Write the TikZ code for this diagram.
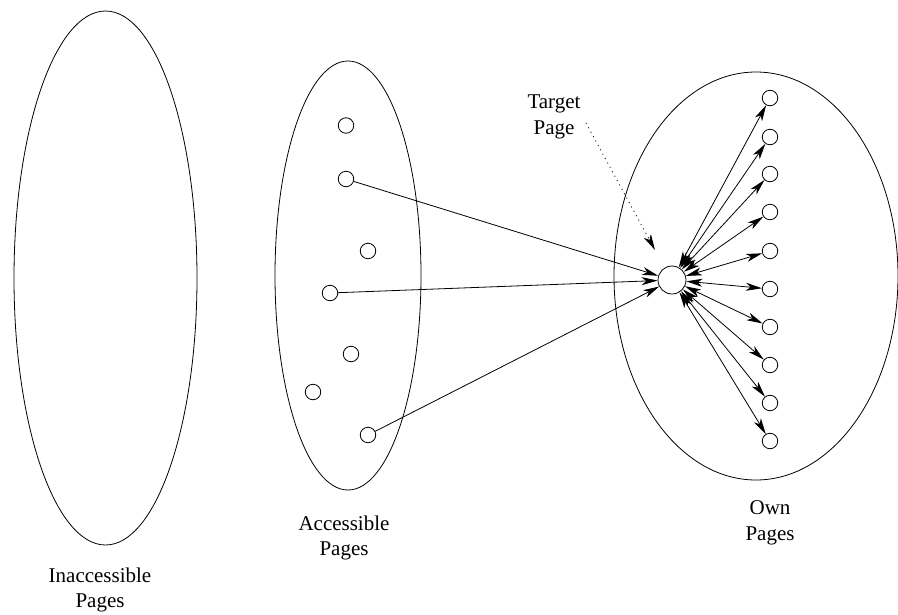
\documentclass[tikz,border=0pt]{standalone}
\usepackage{fontspec}
\setmainfont{Liberation Serif}
\usetikzlibrary{arrows.meta,positioning}

\begin{document}
\begin{tikzpicture}[x=1pt,y=-1pt,line width=0.8pt,
  >={Stealth[length=16pt,width=8pt,inset=4.5pt]},
  page/.style={circle,draw,minimum size=15.5pt,inner sep=0pt},
  setlabel/.style={align=center,font=\fontsize{21}{25.5}\selectfont}]
\useasboundingbox (0,0) rectangle (898,614);
% the three sets of pages
\draw (105.5,278) ellipse [x radius=91.5,y radius=267];
\draw (348,275.5) ellipse [x radius=73,y radius=214.5];
\draw (756,276) ellipse [x radius=142,y radius=204];
\node[setlabel] (inacc) at (100,590) {Inaccessible\\Pages};
\node[setlabel] (acc) at (344,538) {Accessible\\Pages};
\node[setlabel] (own) at (770,523) {Own\\Pages};
% accessible pages
\node[page] (a1) at (346,125.5) {};
\node[page] (a2) at (346,179) {};
\node[page] (a3) at (368,251) {};
\node[page] (a4) at (330,293) {};
\node[page] (a5) at (351,354) {};
\node[page] (a6) at (313,392) {};
\node[page] (a7) at (368,435) {};
% target and own pages
\node[page,minimum size=28pt] (tgt) at (672,280) {};
\foreach \i/\y in {1/98,2/137,3/174,4/212,5/251,6/289,7/327,8/365,9/403,10/441}
  \node[page] (o\i) at (770,\y) {};
\foreach \i in {1,...,10}
  \draw[<->] (tgt) -- (o\i);
\foreach \a in {a2,a4,a7}
  \draw[->] (\a) -- (tgt);
% target label
\node[setlabel] (tgtlbl) at (554,117) {Target\\Page};
\coordinate (dotstart) at (586,123);
\coordinate (dotend) at (655,250);
\draw[dash pattern=on 1pt off 4pt,->] (dotstart) -- (dotend);
\end{tikzpicture}
\end{document}
